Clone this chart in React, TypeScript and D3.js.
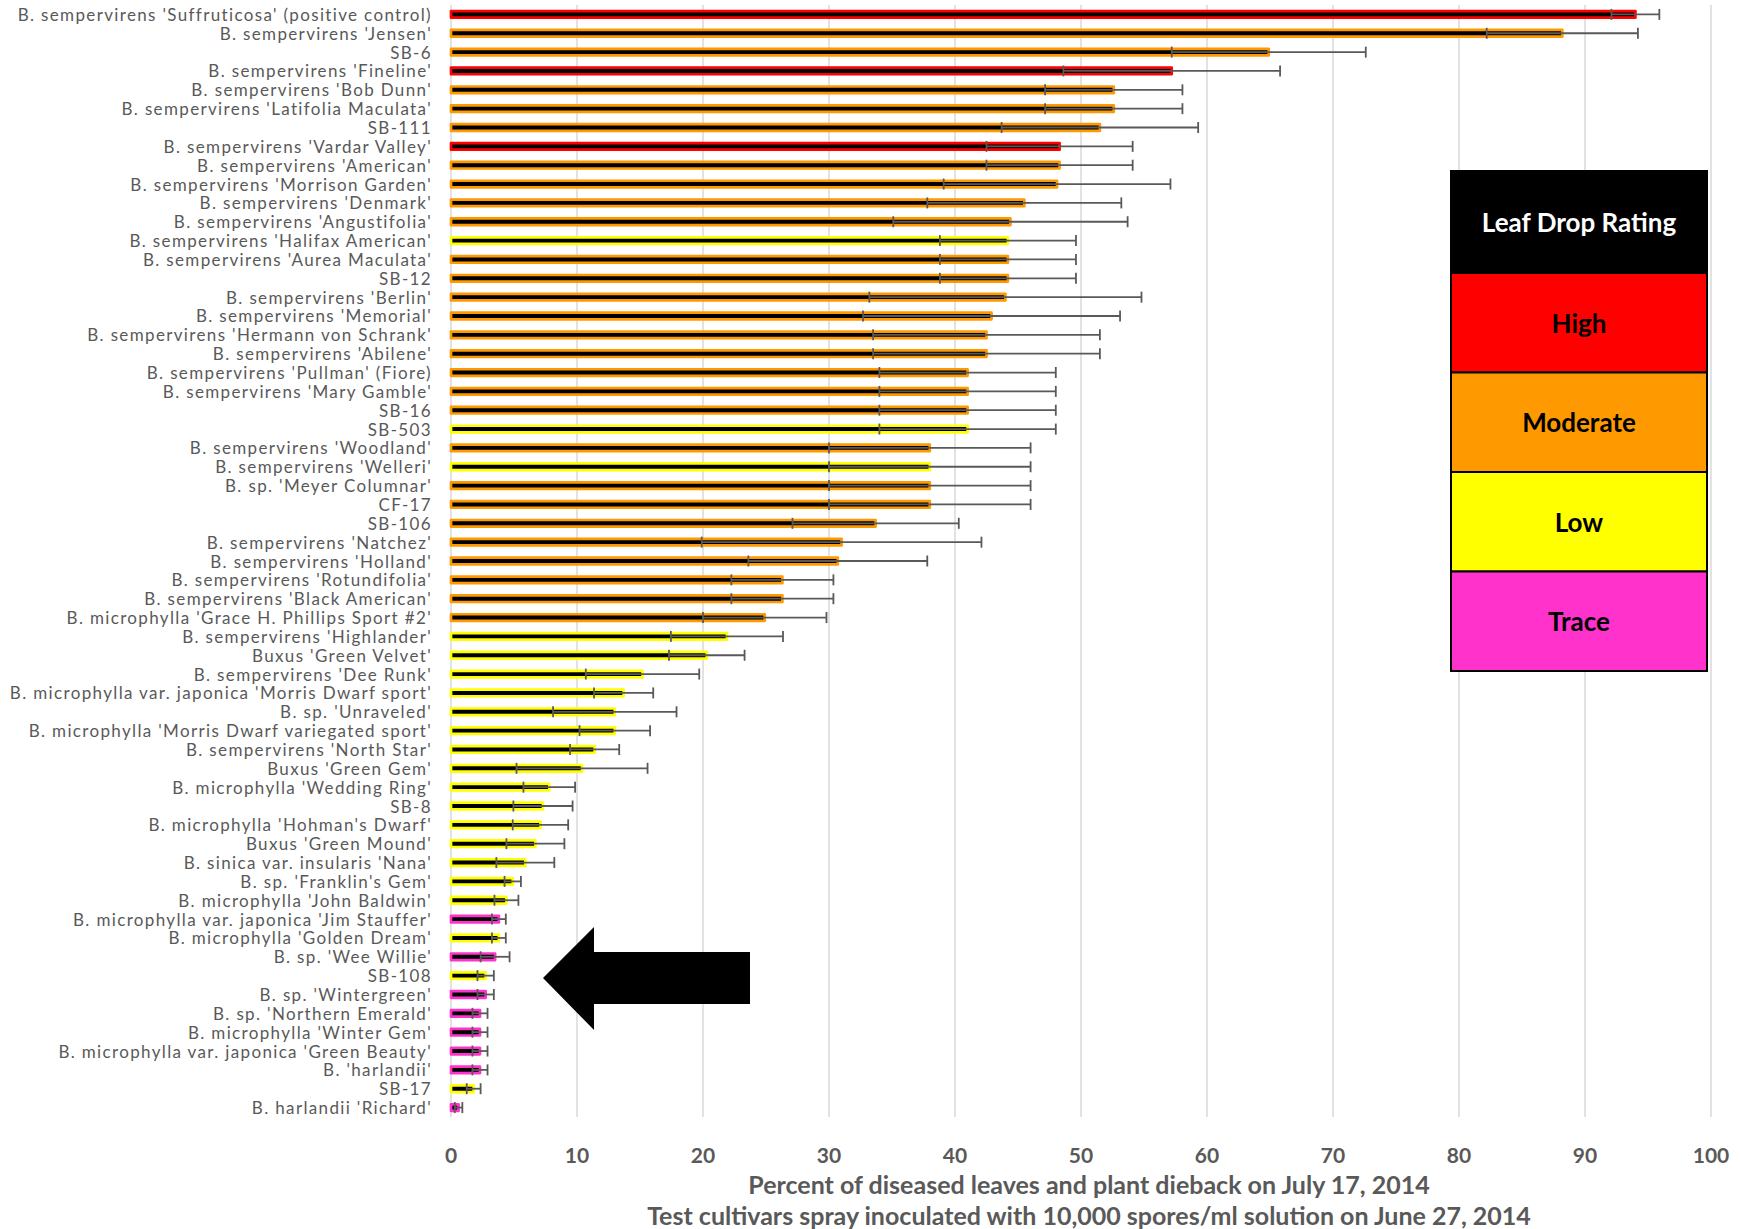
import React from "react";
import * as d3 from "d3";

const categories = [
  "B. sempervirens 'Suffruticosa' (positive control)",
  "B. sempervirens 'Jensen'",
  "SB-6",
  "B. sempervirens 'Fineline'",
  "B. sempervirens 'Bob Dunn'",
  "B. sempervirens 'Latifolia Maculata'",
  "SB-111",
  "B. sempervirens 'Vardar Valley'",
  "B. sempervirens 'American'",
  "B. sempervirens 'Morrison Garden'",
  "B. sempervirens 'Denmark'",
  "B. sempervirens 'Angustifolia'",
  "B. sempervirens 'Halifax American'",
  "B. sempervirens 'Aurea Maculata'",
  "SB-12",
  "B. sempervirens 'Berlin'",
  "B. sempervirens 'Memorial'",
  "B. sempervirens 'Hermann von Schrank'",
  "B. sempervirens 'Abilene'",
  "B. sempervirens 'Pullman' (Fiore)",
  "B. sempervirens 'Mary Gamble'",
  "SB-16",
  "SB-503",
  "B. sempervirens 'Woodland'",
  "B. sempervirens 'Welleri'",
  "B. sp. 'Meyer Columnar'",
  "CF-17",
  "SB-106",
  "B. sempervirens 'Natchez'",
  "B. sempervirens 'Holland'",
  "B. sempervirens 'Rotundifolia'",
  "B. sempervirens 'Black American'",
  "B. microphylla 'Grace H. Phillips Sport #2'",
  "B. sempervirens 'Highlander'",
  "Buxus 'Green Velvet'",
  "B. sempervirens 'Dee Runk'",
  "B. microphylla var. japonica 'Morris Dwarf sport'",
  "B. sp. 'Unraveled'",
  "B. microphylla 'Morris Dwarf variegated sport'",
  "B. sempervirens 'North Star'",
  "Buxus 'Green Gem'",
  "B. microphylla 'Wedding Ring'",
  "SB-8",
  "B. microphylla 'Hohman's Dwarf'",
  "Buxus 'Green Mound'",
  "B. sinica var. insularis 'Nana'",
  "B. sp. 'Franklin's Gem'",
  "B. microphylla 'John Baldwin'",
  "B. microphylla var. japonica 'Jim Stauffer'",
  "B. microphylla 'Golden Dream'",
  "B. sp. 'Wee Willie'",
  "SB-108",
  "B. sp. 'Wintergreen'",
  "B. sp. 'Northern Emerald'",
  "B. microphylla 'Winter Gem'",
  "B. microphylla var. japonica 'Green Beauty'",
  "B. 'harlandii'",
  "SB-17",
  "B. harlandii 'Richard'",
];

const ratings = [
  "High", "Moderate", "Moderate", "High", "Moderate", "Moderate", "Moderate", "High", "Moderate", "Moderate",
  "Moderate", "Moderate", "Low", "Moderate", "Moderate", "Moderate", "Moderate", "Moderate", "Moderate", "Moderate",
  "Moderate", "Moderate", "Low", "Moderate", "Low", "Moderate", "Moderate", "Moderate", "Moderate", "Moderate",
  "Moderate", "Moderate", "Moderate", "Low", "Low", "Low", "Low", "Low", "Low", "Low",
  "Low", "Low", "Low", "Low", "Low", "Low", "Low", "Low", "Trace", "Low",
  "Trace", "Low", "Trace", "Trace", "Trace", "Trace", "Trace", "Low", "Trace",
];

const values = [
  94.0, 88.2, 64.9, 57.2, 52.6, 52.6, 51.5, 48.3, 48.3, 48.1,
  45.5, 44.4, 44.2, 44.2, 44.2, 44.0, 42.9, 42.5, 42.5, 41.0,
  41.0, 41.0, 41.0, 38.0, 38.0, 38.0, 38.0, 33.7, 31.0, 30.7,
  26.3, 26.3, 24.9, 21.9, 20.3, 15.2, 13.7, 13.0, 13.0, 11.4,
  10.4, 7.8, 7.3, 7.1, 6.7, 5.9, 4.9, 4.4, 3.8, 3.8,
  3.5, 2.75, 2.75, 2.3, 2.3, 2.3, 2.3, 1.8, 0.6,
];

const errors = [
  1.9, 6.0, 7.7, 8.6, 5.45, 5.45, 7.8, 5.8, 5.8, 9.0,
  7.7, 9.3, 5.4, 5.4, 5.4, 10.8, 10.2, 9.0, 9.0, 7.0,
  7.0, 7.0, 7.0, 8.0, 8.0, 8.0, 8.0, 6.6, 11.1, 7.1,
  4.05, 4.05, 4.9, 4.45, 3.0, 4.5, 2.35, 4.9, 2.8, 1.95,
  5.2, 2.05, 2.35, 2.2, 2.3, 2.3, 0.65, 0.95, 0.55, 0.55,
  1.15, 0.65, 0.65, 0.6, 0.6, 0.6, 0.6, 0.55, 0.3,
];

const ratingLevels = ["High", "Moderate", "Low", "Trace"];
const ratingColors = ["#FF0000", "#FF9900", "#FFFF00", "#FF33CC"];
const legendTitle = "Leaf Drop Rating";
const xTicks = [0, 10, 20, 30, 40, 50, 60, 70, 80, 90, 100];
const xTitleLines = [
  "Percent of diseased leaves and plant dieback on July 17, 2014",
  "Test cultivars spray inoculated with 10,000 spores/ml solution on June 27, 2014",
];

const W = 1741;
const H = 1229;
const gray = "#595959";
const font = "Lato, 'Open Sans', sans-serif";

export default function App() {
  const x = d3.scaleLinear().domain([0, 100]).range([451, 1711]);
  const y = d3.scaleBand<string>().domain(categories).range([5, 1117]);
  const color = d3.scaleOrdinal<string, string>().domain(ratingLevels).range(ratingColors);
  const bw = y.bandwidth();
  const plotTop = 5;
  const plotBottom = 1117;

  const legendX = 1450;
  const legendW = 258;
  const headerTop = 170;
  const headerH = 103;
  const cellH = 99.5;

  const arrow = [
    [543, 978],
    [594, 927],
    [594, 952],
    [750, 952],
    [750, 1004],
    [594, 1004],
    [594, 1030],
  ];

  return (
    <svg
      width={W}
      height={H}
      viewBox={`0 0 ${W} ${H}`}
      style={{ position: "absolute", left: 0, top: 0, background: "#fff" }}
      fontFamily={font}
    >
      <rect x={0} y={0} width={W} height={H} fill="#fff" />
      {xTicks.map((t) => (
        <line
          key={"g" + t}
          x1={x(t)}
          x2={x(t)}
          y1={plotTop}
          y2={plotBottom}
          stroke="#d9d9d9"
          strokeWidth={1.5}
        />
      ))}
      {categories.map((c, i) => {
        const cy = (y(c) as number) + bw / 2;
        const x0 = x(0);
        const x1 = x(values[i]);
        const col = color(ratings[i]);
        return (
          <rect
            key={"b" + i}
            x={x0}
            y={cy - 3.3}
            width={Math.max(0.5, x1 - x0)}
            height={6.6}
            fill="#000"
            stroke={col}
            strokeWidth={2.7}
            strokeLinejoin="round"
          />
        );
      })}
      {categories.map((c, i) => {
        const cy = (y(c) as number) + bw / 2;
        const lo = x(Math.max(0, values[i] - errors[i]));
        const hi = x(values[i] + errors[i]);
        return (
          <g key={"e" + i} stroke={gray} strokeWidth={1.8}>
            <line x1={lo} x2={hi} y1={cy} y2={cy} />
            <line x1={lo} x2={lo} y1={cy - 5.5} y2={cy + 5.5} />
            <line x1={hi} x2={hi} y1={cy - 5.5} y2={cy + 5.5} />
          </g>
        );
      })}
      {categories.map((c) => (
        <text
          key={"l" + c}
          x={432}
          y={(y(c) as number) + bw / 2}
          textAnchor="end"
          dominantBaseline="central"
          fontSize={17}
          letterSpacing={1.35}
          fill={gray}
        >
          {c}
        </text>
      ))}
      {xTicks.map((t) => (
        <text
          key={"t" + t}
          x={x(t)}
          y={1154}
          textAnchor="middle"
          dominantBaseline="central"
          fontSize={21}
          fontWeight="bold"
          fill={gray}
        >
          {t}
        </text>
      ))}
      {xTitleLines.map((s, i) => (
        <text
          key={"xt" + i}
          x={1089}
          y={1184 + i * 31}
          textAnchor="middle"
          dominantBaseline="central"
          fontSize={25}
          fontWeight="bold"
          fill={gray}
        >
          {s}
        </text>
      ))}
      <rect x={legendX} y={headerTop} width={legendW} height={headerH} fill="#000" />
      <text
        x={legendX + legendW / 2}
        y={headerTop + headerH / 2}
        textAnchor="middle"
        dominantBaseline="central"
        fontSize={26}
        fontWeight="bold"
        fill="#fff"
      >
        {legendTitle}
      </text>
      {ratingLevels.map((r, i) => {
        const ty = headerTop + headerH + i * cellH;
        return (
          <g key={"lg" + r}>
            <rect
              x={legendX + 1}
              y={ty}
              width={legendW - 2}
              height={cellH}
              fill={color(r)}
              stroke="#000"
              strokeWidth={2}
            />
            <text
              x={legendX + legendW / 2}
              y={ty + cellH / 2}
              textAnchor="middle"
              dominantBaseline="central"
              fontSize={26}
              fontWeight="bold"
              fill="#000"
            >
              {r}
            </text>
          </g>
        );
      })}
      <polygon points={arrow.map((p) => p.join(",")).join(" ")} fill="#000" />
    </svg>
  );
}
